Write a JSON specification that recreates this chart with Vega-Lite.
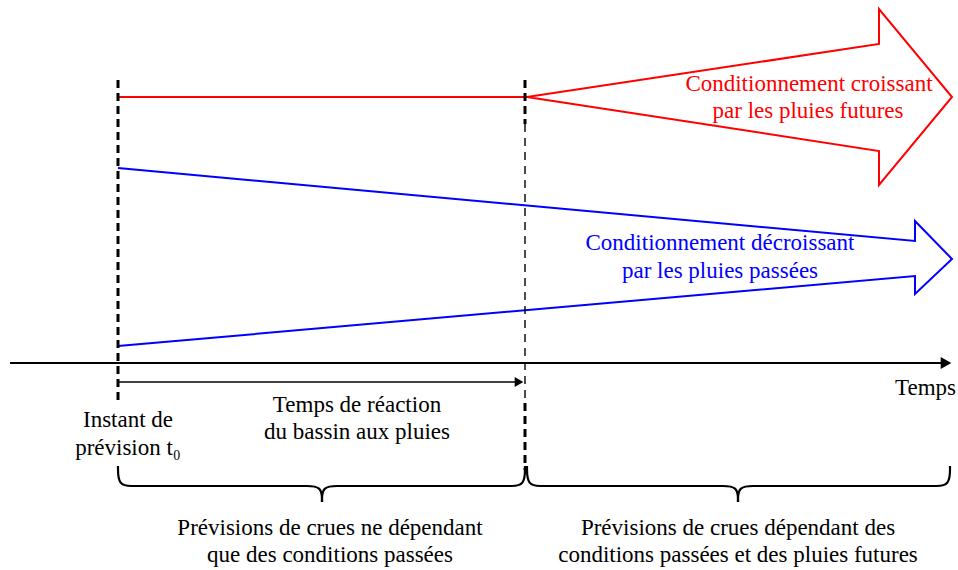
{
  "$schema": "https://vega.github.io/schema/vega-lite/v6.json",
  "width": 958,
  "height": 570,
  "autosize": {"type": "fit", "contains": "padding"},
  "padding": 0,
  "background": "white",
  "config": {"view": {"stroke": null}},
  "datasets": {
    "fleches": [
      {"g": "r", "serie": "futures", "o": 1, "x": 118, "y": 97},
      {"g": "r", "serie": "futures", "o": 2, "x": 527, "y": 97},
      {"g": "r", "serie": "futures", "o": 3, "x": 879, "y": 44},
      {"g": "r", "serie": "futures", "o": 4, "x": 879, "y": 9},
      {"g": "r", "serie": "futures", "o": 5, "x": 952, "y": 97},
      {"g": "r", "serie": "futures", "o": 6, "x": 879, "y": 185},
      {"g": "r", "serie": "futures", "o": 7, "x": 879, "y": 151},
      {"g": "r", "serie": "futures", "o": 8, "x": 527, "y": 97},
      {"g": "b", "serie": "passees", "o": 1, "x": 118, "y": 168},
      {"g": "b", "serie": "passees", "o": 2, "x": 915, "y": 241},
      {"g": "b", "serie": "passees", "o": 3, "x": 915, "y": 221},
      {"g": "b", "serie": "passees", "o": 4, "x": 952, "y": 259},
      {"g": "b", "serie": "passees", "o": 5, "x": 915, "y": 294},
      {"g": "b", "serie": "passees", "o": 6, "x": 915, "y": 276},
      {"g": "b", "serie": "passees", "o": 7, "x": 118, "y": 346}
    ],
    "axes": [
      {"nom": "temps", "x": 10, "x2": 944, "y": 363, "w": 1.8},
      {"nom": "reaction", "x": 118, "x2": 516, "y": 382, "w": 1.4}
    ],
    "pointes": [
      {"nom": "temps", "x": 946, "y": 363},
      {"nom": "reaction", "x": 519, "y": 382}
    ],
    "epais": [
      {"x": 118, "y": 80, "y2": 402},
      {"x": 525, "y": 80, "y2": 124},
      {"x": 525, "y": 403, "y2": 470}
    ],
    "fins": [
      {"x": 525, "y": 124, "y2": 403}
    ],
    "accolades": [
      {"s": "a1", "o": 1, "x": 118, "y": 466},
      {"s": "a1", "o": 2, "x": 118, "y": 486},
      {"s": "a1", "o": 3, "x": 134, "y": 486},
      {"s": "a2", "o": 1, "x": 134, "y": 486},
      {"s": "a2", "o": 2, "x": 304, "y": 486},
      {"s": "a3", "o": 1, "x": 304, "y": 486},
      {"s": "a3", "o": 2, "x": 322, "y": 486},
      {"s": "a3", "o": 3, "x": 322, "y": 502},
      {"s": "a4", "o": 1, "x": 322, "y": 502},
      {"s": "a4", "o": 2, "x": 322, "y": 486},
      {"s": "a4", "o": 3, "x": 340, "y": 486},
      {"s": "a5", "o": 1, "x": 340, "y": 486},
      {"s": "a5", "o": 2, "x": 509, "y": 486},
      {"s": "a6", "o": 1, "x": 509, "y": 486},
      {"s": "a6", "o": 2, "x": 525, "y": 486},
      {"s": "a6", "o": 3, "x": 525, "y": 466},
      {"s": "b1", "o": 1, "x": 527, "y": 466},
      {"s": "b1", "o": 2, "x": 527, "y": 486},
      {"s": "b1", "o": 3, "x": 543, "y": 486},
      {"s": "b2", "o": 1, "x": 543, "y": 486},
      {"s": "b2", "o": 2, "x": 720, "y": 486},
      {"s": "b3", "o": 1, "x": 720, "y": 486},
      {"s": "b3", "o": 2, "x": 738, "y": 486},
      {"s": "b3", "o": 3, "x": 738, "y": 502},
      {"s": "b4", "o": 1, "x": 738, "y": 502},
      {"s": "b4", "o": 2, "x": 738, "y": 486},
      {"s": "b4", "o": 3, "x": 756, "y": 486},
      {"s": "b5", "o": 1, "x": 756, "y": 486},
      {"s": "b5", "o": 2, "x": 934, "y": 486},
      {"s": "b6", "o": 1, "x": 934, "y": 486},
      {"s": "b6", "o": 2, "x": 950, "y": 486},
      {"s": "b6", "o": 3, "x": 950, "y": 466}
    ],
    "textes": [
      {"serie": "futures", "x": 809, "y": 84, "t": "Conditionnement croissant"},
      {"serie": "futures", "x": 808, "y": 111, "t": "par les pluies futures"},
      {"serie": "passees", "x": 720, "y": 243, "t": "Conditionnement décroissant"},
      {"serie": "passees", "x": 720, "y": 271, "t": "par les pluies passées"},
      {"serie": "texte", "x": 128, "y": 420, "t": "Instant de"},
      {"serie": "texte", "x": 128, "y": 448, "t": "prévision t₀"},
      {"serie": "texte", "x": 357, "y": 405, "t": "Temps de réaction"},
      {"serie": "texte", "x": 357, "y": 432, "t": "du bassin aux pluies"},
      {"serie": "texte", "x": 330, "y": 528, "t": "Prévisions de crues ne dépendant"},
      {"serie": "texte", "x": 330, "y": 555, "t": "que des conditions passées"},
      {"serie": "texte", "x": 738, "y": 528, "t": "Prévisions de crues dépendant des"},
      {"serie": "texte", "x": 738, "y": 555, "t": "conditions passées et des pluies futures"}
    ],
    "temps": [
      {"serie": "texte", "x": 956, "y": 388, "t": "Temps"}
    ]
  },
  "layer": [
    {
      "data": {"name": "fleches"},
      "mark": {"type": "line", "strokeWidth": 2, "strokeJoin": "miter"},
      "encoding": {
        "x": {"field": "x", "type": "quantitative", "scale": {"domain": [0, 958], "nice": false, "zero": false}, "axis": null},
        "y": {"field": "y", "type": "quantitative", "scale": {"domain": [0, 570], "nice": false, "zero": false, "reverse": true}, "axis": null},
        "detail": {"field": "g"},
        "order": {"field": "o", "type": "quantitative"},
        "color": {"field": "serie", "type": "nominal", "scale": {"domain": ["futures", "passees", "texte"], "range": ["#ff0000", "#0000ff", "#000000"]}, "legend": null}
      }
    },
    {
      "data": {"name": "axes"},
      "mark": {"type": "rule", "color": "black"},
      "encoding": {
        "x": {"field": "x", "type": "quantitative"},
        "x2": {"field": "x2"},
        "y": {"field": "y", "type": "quantitative"},
        "strokeWidth": {"field": "w", "type": "quantitative", "scale": null}
      }
    },
    {
      "data": {"name": "pointes"},
      "mark": {"type": "point", "shape": "triangle-right", "filled": true, "color": "black", "opacity": 1},
      "encoding": {
        "x": {"field": "x", "type": "quantitative"},
        "y": {"field": "y", "type": "quantitative"},
        "size": {"field": "nom", "type": "nominal", "scale": {"domain": ["temps", "reaction"], "range": [150, 100]}, "legend": null}
      }
    },
    {
      "data": {"name": "epais"},
      "mark": {"type": "rule", "color": "black", "strokeWidth": 3, "strokeDash": [8, 5]},
      "encoding": {
        "x": {"field": "x", "type": "quantitative"},
        "y": {"field": "y", "type": "quantitative"},
        "y2": {"field": "y2"}
      }
    },
    {
      "data": {"name": "fins"},
      "mark": {"type": "rule", "color": "black", "strokeWidth": 1.4, "strokeDash": [8, 6]},
      "encoding": {
        "x": {"field": "x", "type": "quantitative"},
        "y": {"field": "y", "type": "quantitative"},
        "y2": {"field": "y2"}
      }
    },
    {
      "data": {"name": "accolades"},
      "mark": {"type": "line", "interpolate": "basis", "color": "black", "strokeWidth": 2.2},
      "encoding": {
        "x": {"field": "x", "type": "quantitative"},
        "y": {"field": "y", "type": "quantitative"},
        "detail": {"field": "s"},
        "order": {"field": "o", "type": "quantitative"}
      }
    },
    {
      "data": {"name": "textes"},
      "mark": {"type": "text", "font": "Liberation Serif", "fontSize": 23, "align": "center", "baseline": "middle"},
      "encoding": {
        "x": {"field": "x", "type": "quantitative"},
        "y": {"field": "y", "type": "quantitative"},
        "text": {"field": "t"},
        "color": {"field": "serie", "type": "nominal", "legend": null}
      }
    },
    {
      "data": {"name": "temps"},
      "mark": {"type": "text", "font": "Liberation Serif", "fontSize": 23, "align": "right", "baseline": "middle"},
      "encoding": {
        "x": {"field": "x", "type": "quantitative"},
        "y": {"field": "y", "type": "quantitative"},
        "text": {"field": "t"},
        "color": {"field": "serie", "type": "nominal", "legend": null}
      }
    }
  ]
}
